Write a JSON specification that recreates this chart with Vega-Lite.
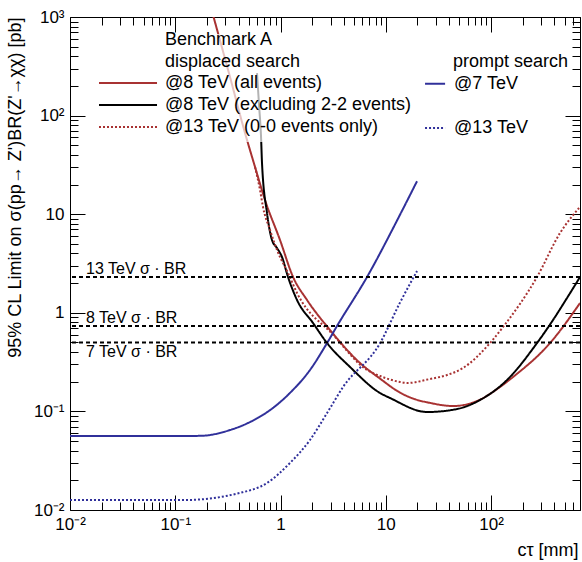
{
  "$schema": "https://vega.github.io/schema/vega-lite/v6.json",
  "width": 510,
  "height": 493,
  "autosize": {"type": "none"},
  "padding": {"left": 70, "top": 17, "right": 2, "bottom": 52},
  "background": "white",
  "config": {
    "view": {"stroke": "black", "strokeWidth": 1},
    "font": "Liberation Sans"
  },
  "datasets": {
    "curves": [
      {"series": "disp8all", "ct": 0.2284, "limit": 1048},
      {"series": "disp8all", "ct": 0.3313, "limit": 246},
      {"series": "disp8all", "ct": 0.46, "limit": 66.6},
      {"series": "disp8all", "ct": 0.5727, "limit": 30.1},
      {"series": "disp8all", "ct": 0.7125, "limit": 13.9},
      {"series": "disp8all", "ct": 0.989, "limit": 5.47},
      {"series": "disp8all", "ct": 1.315, "limit": 2.31},
      {"series": "disp8all", "ct": 1.786, "limit": 1.348},
      {"series": "disp8all", "ct": 2.953, "limit": 0.669},
      {"series": "disp8all", "ct": 5.69, "limit": 0.31},
      {"series": "disp8all", "ct": 8.82, "limit": 0.215},
      {"series": "disp8all", "ct": 13.66, "limit": 0.155},
      {"series": "disp8all", "ct": 18.15, "limit": 0.135},
      {"series": "disp8all", "ct": 26.3, "limit": 0.122},
      {"series": "disp8all", "ct": 43.55, "limit": 0.1134},
      {"series": "disp8all", "ct": 73.6, "limit": 0.1275},
      {"series": "disp8all", "ct": 121.8, "limit": 0.177},
      {"series": "disp8all", "ct": 161.9, "limit": 0.2234},
      {"series": "disp8all", "ct": 363.6, "limit": 0.494},
      {"series": "disp8all", "ct": 701, "limit": 1.257},

      {"series": "disp8excl", "ct": 0.598, "limit": 270},
      {"series": "disp8excl", "ct": 0.625, "limit": 128},
      {"series": "disp8excl", "ct": 0.653, "limit": 60.7},
      {"series": "disp8excl", "ct": 0.667, "limit": 33},
      {"series": "disp8excl", "ct": 0.744, "limit": 10.3},
      {"series": "disp8excl", "ct": 0.83, "limit": 5.47},
      {"series": "disp8excl", "ct": 0.926, "limit": 4.54},
      {"series": "disp8excl", "ct": 1.033, "limit": 3.68},
      {"series": "disp8excl", "ct": 1.178, "limit": 2.31},
      {"series": "disp8excl", "ct": 1.435, "limit": 1.348},
      {"series": "disp8excl", "ct": 2.036, "limit": 0.788},
      {"series": "disp8excl", "ct": 2.765, "limit": 0.494},
      {"series": "disp8excl", "ct": 4.575, "limit": 0.282},
      {"series": "disp8excl", "ct": 8.82, "limit": 0.1537},
      {"series": "disp8excl", "ct": 10.97, "limit": 0.1368},
      {"series": "disp8excl", "ct": 24.65, "limit": 0.0986},
      {"series": "disp8excl", "ct": 47.5, "limit": 0.1057},
      {"series": "disp8excl", "ct": 78.6, "limit": 0.1305},
      {"series": "disp8excl", "ct": 141.9, "limit": 0.2083},
      {"series": "disp8excl", "ct": 273.5, "limit": 0.494},
      {"series": "disp8excl", "ct": 388, "limit": 0.845},
      {"series": "disp8excl", "ct": 527, "limit": 1.413},
      {"series": "disp8excl", "ct": 701, "limit": 2.31},

      {"series": "disp13", "ct": 0.5727, "limit": 30.1},
      {"series": "disp13", "ct": 0.6385, "limit": 17.6},
      {"series": "disp13", "ct": 0.682, "limit": 11.8},
      {"series": "disp13", "ct": 0.795, "limit": 6.92},
      {"series": "disp13", "ct": 0.926, "limit": 4.335},
      {"series": "disp13", "ct": 1.178, "limit": 2.533},
      {"series": "disp13", "ct": 1.435, "limit": 1.588},
      {"series": "disp13", "ct": 3.154, "limit": 0.6},
      {"series": "disp13", "ct": 6.63, "limit": 0.263},
      {"series": "disp13", "ct": 8.82, "limit": 0.2286},
      {"series": "disp13", "ct": 13.66, "limit": 0.1987},
      {"series": "disp13", "ct": 15.92, "limit": 0.194},
      {"series": "disp13", "ct": 26.3, "limit": 0.2131},
      {"series": "disp13", "ct": 38.2, "limit": 0.2339},
      {"series": "disp13", "ct": 54.2, "limit": 0.2756},
      {"series": "disp13", "ct": 97.8, "limit": 0.494},
      {"series": "disp13", "ct": 130, "limit": 0.718},
      {"series": "disp13", "ct": 273.5, "limit": 2.31},
      {"series": "disp13", "ct": 452.5, "limit": 6.45},
      {"series": "disp13", "ct": 685.7, "limit": 11.56},

      {"series": "prompt7", "ct": 0.01, "limit": 0.0563},
      {"series": "prompt7", "ct": 0.1, "limit": 0.0563},
      {"series": "prompt7", "ct": 0.172, "limit": 0.0565},
      {"series": "prompt7", "ct": 0.331, "limit": 0.0647},
      {"series": "prompt7", "ct": 0.513, "limit": 0.078},
      {"series": "prompt7", "ct": 0.794, "limit": 0.103},
      {"series": "prompt7", "ct": 1.23, "limit": 0.154},
      {"series": "prompt7", "ct": 1.905, "limit": 0.263},
      {"series": "prompt7", "ct": 2.77, "limit": 0.494},
      {"series": "prompt7", "ct": 3.44, "limit": 0.734},
      {"series": "prompt7", "ct": 6.64, "limit": 2.31},
      {"series": "prompt7", "ct": 13.6, "limit": 9.8},
      {"series": "prompt7", "ct": 19.8, "limit": 21.6},

      {"series": "prompt13", "ct": 0.01, "limit": 0.0126},
      {"series": "prompt13", "ct": 0.119, "limit": 0.0126},
      {"series": "prompt13", "ct": 0.412, "limit": 0.0149},
      {"series": "prompt13", "ct": 0.745, "limit": 0.0188},
      {"series": "prompt13", "ct": 1.23, "limit": 0.03},
      {"series": "prompt13", "ct": 1.905, "limit": 0.0513},
      {"series": "prompt13", "ct": 2.77, "limit": 0.0964},
      {"series": "prompt13", "ct": 3.93, "limit": 0.177},
      {"series": "prompt13", "ct": 8.8, "limit": 0.49},
      {"series": "prompt13", "ct": 13.6, "limit": 1.26},
      {"series": "prompt13", "ct": 19.8, "limit": 2.65}
    ],
    "refs": [
      {"label": "13 TeV σ · BR", "value": 2.31, "pos": "above"},
      {"label": "8 TeV σ · BR", "value": 0.734, "pos": "above"},
      {"label": "7 TeV σ · BR", "value": 0.5, "pos": "below"}
    ],
    "legend_box": [
      {"x": 0.0155, "x2": 453, "y": 54, "y2": 672}
    ],
    "legend_keys": [
      {"series": "disp8all", "x": 0.01886, "x2": 0.0671, "y": 214},
      {"series": "disp8excl", "x": 0.01886, "x2": 0.0671, "y": 128},
      {"series": "disp13", "x": 0.01886, "x2": 0.0671, "y": 76.6},
      {"series": "prompt7", "x": 23.6, "x2": 36.6, "y": 211},
      {"series": "prompt13", "x": 23.6, "x2": 36.6, "y": 75}
    ],
    "legend_text": [
      {"text": "Benchmark A", "x": 0.0799, "y": 584},
      {"text": "displaced search", "x": 0.0799, "y": 350},
      {"text": "@8 TeV (all events)", "x": 0.0799, "y": 214},
      {"text": "@8 TeV (excluding 2-2 events)", "x": 0.0799, "y": 128},
      {"text": "@13 TeV (0-0 events only)", "x": 0.0799, "y": 76.6},
      {"text": "prompt search", "x": 43.5, "y": 350},
      {"text": "@7 TeV", "x": 44.4, "y": 211},
      {"text": "@13 TeV", "x": 44.4, "y": 75}
    ]
  },
  "resolve": {"axis": {"x": "independent", "y": "independent"}},
  "layer": [
    {
      "data": {"name": "curves"},
      "mark": {"type": "line", "strokeWidth": 2, "clip": true, "interpolate": "monotone"},
      "encoding": {
        "x": {
          "field": "ct", "type": "quantitative",
          "scale": {"type": "log", "domain": [0.01, 700], "nice": false},
          "axis": {
            "orient": "bottom",
            "values": [0.01,0.02,0.03,0.04,0.05,0.06,0.07,0.08,0.09,0.1,0.2,0.3,0.4,0.5,0.6,0.7,0.8,0.9,1,2,3,4,5,6,7,8,9,10,20,30,40,50,60,70,80,90,100,200,300,400,500,600,700],
            "labelExpr": "datum.value == 0.01 ? '10⁻²' : datum.value == 0.1 ? '10⁻¹' : datum.value == 1 ? '1' : datum.value == 10 ? '10' : datum.value == 100 ? '10²' : ''",
            "labelFont": "Liberation Sans", "labelFontSize": 17, "labelColor": "black",
            "labelPadding": 21, "labelOverlap": false, "labelFlush": false, "labelBound": false, "labelAngle": 0,
            "tickSize": {"condition": {"test": "indexof([0.01,0.1,1,10,100,1000], datum.value) >= 0", "value": -15}, "value": -8},
            "tickColor": "black", "tickWidth": 1, "domain": false, "grid": false,
            "title": "cτ [mm]", "titleFont": "Liberation Sans", "titleFontSize": 18, "titleFontWeight": "normal", "titleColor": "black",
            "titleAnchor": "end", "titleAlign": "right", "titleBaseline": "alphabetic", "titleX": 508, "titleY": 45
          }
        },
        "y": {
          "field": "limit", "type": "quantitative",
          "scale": {"type": "log", "domain": [0.01, 1000], "nice": false},
          "axis": {
            "orient": "left",
            "values": [0.01,0.02,0.03,0.04,0.05,0.06,0.07,0.08,0.09,0.1,0.2,0.3,0.4,0.5,0.6,0.7,0.8,0.9,1,2,3,4,5,6,7,8,9,10,20,30,40,50,60,70,80,90,100,200,300,400,500,600,700,800,900,1000],
            "labelExpr": "datum.value == 0.01 ? '10⁻²' : datum.value == 0.1 ? '10⁻¹' : datum.value == 1 ? '1' : datum.value == 10 ? '10' : datum.value == 100 ? '10²' : datum.value == 1000 ? '10³' : ''",
            "labelFont": "Liberation Sans", "labelFontSize": 17, "labelColor": "black",
            "labelPadding": 21, "labelOverlap": false, "labelFlush": false, "labelBound": false,
            "tickSize": {"condition": {"test": "indexof([0.01,0.1,1,10,100,1000], datum.value) >= 0", "value": -15}, "value": -8},
            "tickColor": "black", "tickWidth": 1, "domain": false, "grid": false,
            "title": "95% CL Limit on σ(pp→ Z')BR(Z'→χχ) [pb]", "titleFont": "Liberation Sans", "titleFontSize": 18, "titleFontWeight": "normal", "titleColor": "black",
            "titleAnchor": "end", "titleAlign": "right", "titleBaseline": "alphabetic", "titleAngle": -90, "titleX": -50, "titleY": 0
          }
        },
        "color": {
          "field": "series", "type": "nominal", "legend": null,
          "scale": {"domain": ["disp8all", "disp8excl", "disp13", "prompt7", "prompt13"], "range": ["#a83232", "#000000", "#a83232", "#30309a", "#30309a"]}
        },
        "strokeDash": {
          "field": "series", "type": "nominal", "legend": null,
          "scale": {"domain": ["disp8all", "disp8excl", "disp13", "prompt7", "prompt13"], "range": [[1, 0], [1, 0], [2, 2], [1, 0], [2, 2]]}
        }
      }
    },
    {
      "data": {"name": "legend_box"},
      "mark": {"type": "rect", "fill": "white", "opacity": 0.7},
      "encoding": {
        "x": {"field": "x", "type": "quantitative", "scale": {"type": "log", "domain": [0.01, 700], "nice": false}, "axis": null},
        "x2": {"field": "x2"},
        "y": {"field": "y", "type": "quantitative", "scale": {"type": "log", "domain": [0.01, 1000], "nice": false}, "axis": null},
        "y2": {"field": "y2"}
      }
    },
    {
      "data": {"name": "refs"},
      "mark": {"type": "rule", "strokeDash": [4, 3], "strokeWidth": 2, "color": "black"},
      "encoding": {
        "y": {"field": "value", "type": "quantitative", "scale": {"type": "log", "domain": [0.01, 1000], "nice": false}, "axis": null}
      }
    },
    {
      "data": {"name": "refs"},
      "transform": [{"filter": "datum.pos == 'above'"}],
      "mark": {"type": "text", "align": "left", "baseline": "alphabetic", "dy": -3, "fontSize": 16, "font": "Liberation Sans", "color": "black"},
      "encoding": {
        "x": {"datum": 0.0142, "type": "quantitative", "scale": {"type": "log", "domain": [0.01, 700], "nice": false}, "axis": null},
        "y": {"field": "value", "type": "quantitative", "scale": {"type": "log", "domain": [0.01, 1000], "nice": false}, "axis": null},
        "text": {"field": "label"}
      }
    },
    {
      "data": {"name": "refs"},
      "transform": [{"filter": "datum.pos == 'below'"}],
      "mark": {"type": "text", "align": "left", "baseline": "alphabetic", "dy": 15, "fontSize": 16, "font": "Liberation Sans", "color": "black"},
      "encoding": {
        "x": {"datum": 0.0142, "type": "quantitative", "scale": {"type": "log", "domain": [0.01, 700], "nice": false}, "axis": null},
        "y": {"field": "value", "type": "quantitative", "scale": {"type": "log", "domain": [0.01, 1000], "nice": false}, "axis": null},
        "text": {"field": "label"}
      }
    },
    {
      "data": {"name": "legend_keys"},
      "mark": {"type": "rule", "strokeWidth": 2},
      "encoding": {
        "x": {
          "field": "x", "type": "quantitative",
          "scale": {"type": "log", "domain": [0.01, 700], "nice": false},
          "axis": {
            "orient": "top", "labels": false, "title": null, "domain": false, "grid": false,
            "values": [0.01,0.02,0.03,0.04,0.05,0.06,0.07,0.08,0.09,0.1,0.2,0.3,0.4,0.5,0.6,0.7,0.8,0.9,1,2,3,4,5,6,7,8,9,10,20,30,40,50,60,70,80,90,100,200,300,400,500,600,700],
            "tickSize": {"condition": {"test": "indexof([0.01,0.1,1,10,100,1000], datum.value) >= 0", "value": -15}, "value": -8},
            "tickColor": "black", "tickWidth": 1
          }
        },
        "x2": {"field": "x2"},
        "y": {
          "field": "y", "type": "quantitative",
          "scale": {"type": "log", "domain": [0.01, 1000], "nice": false},
          "axis": {
            "orient": "right", "labels": false, "title": null, "domain": false, "grid": false,
            "values": [0.01,0.02,0.03,0.04,0.05,0.06,0.07,0.08,0.09,0.1,0.2,0.3,0.4,0.5,0.6,0.7,0.8,0.9,1,2,3,4,5,6,7,8,9,10,20,30,40,50,60,70,80,90,100,200,300,400,500,600,700,800,900,1000],
            "tickSize": {"condition": {"test": "indexof([0.01,0.1,1,10,100,1000], datum.value) >= 0", "value": -15}, "value": -8},
            "tickColor": "black", "tickWidth": 1
          }
        },
        "color": {
          "field": "series", "type": "nominal", "legend": null,
          "scale": {"domain": ["disp8all", "disp8excl", "disp13", "prompt7", "prompt13"], "range": ["#a83232", "#000000", "#a83232", "#30309a", "#30309a"]}
        },
        "strokeDash": {
          "field": "series", "type": "nominal", "legend": null,
          "scale": {"domain": ["disp8all", "disp8excl", "disp13", "prompt7", "prompt13"], "range": [[1, 0], [1, 0], [2, 2], [1, 0], [2, 2]]}
        }
      }
    },
    {
      "data": {"name": "legend_text"},
      "mark": {"type": "text", "align": "left", "baseline": "middle", "fontSize": 18, "font": "Liberation Sans", "color": "black"},
      "encoding": {
        "x": {"field": "x", "type": "quantitative", "scale": {"type": "log", "domain": [0.01, 700], "nice": false}, "axis": null},
        "y": {"field": "y", "type": "quantitative", "scale": {"type": "log", "domain": [0.01, 1000], "nice": false}, "axis": null},
        "text": {"field": "text"}
      }
    }
  ]
}
